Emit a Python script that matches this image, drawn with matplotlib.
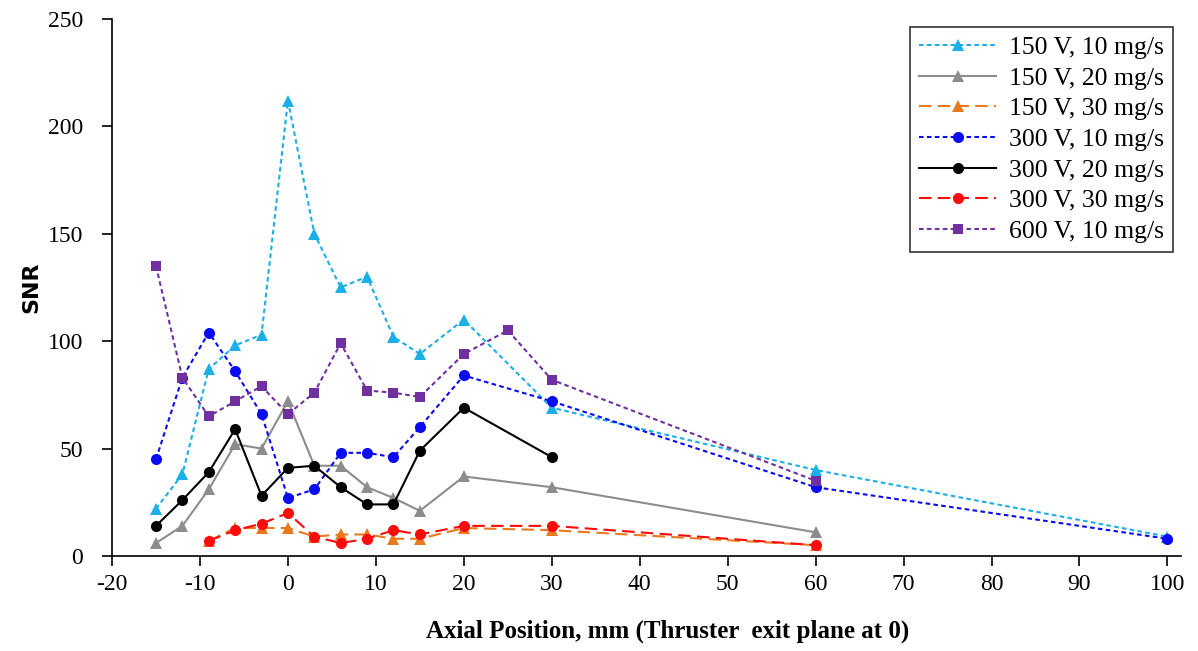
import matplotlib.pyplot as plt

# axial positions (mm) and SNR for each operating condition
x_150_10 = [-15, -12, -9, -6, -3, 0, 3, 6, 9, 12, 15, 20, 30, 60, 100]
snr_150_10 = [22, 38, 87, 98, 103, 212, 150, 125, 130, 102, 94, 110, 69, 40, 9]

x_150_20 = [-15, -12, -9, -6, -3, 0, 3, 6, 9, 12, 15, 20, 30, 60]
snr_150_20 = [6, 14, 31, 52, 50, 72, 42, 42, 32, 27, 21, 37, 32, 11]

x_150_30 = [-9, -6, -3, 0, 3, 6, 9, 12, 15, 20, 30, 60]
snr_150_30 = [7, 13, 13, 13, 9, 10, 10, 8, 8, 13, 12, 5]

x_300_10 = [-15, -12, -9, -6, -3, 0, 3, 6, 9, 12, 15, 20, 30, 60, 100]
snr_300_10 = [45, 83, 104, 86, 66, 27, 31, 48, 48, 46, 60, 84, 72, 32, 8]

x_300_20 = [-15, -12, -9, -6, -3, 0, 3, 6, 9, 12, 15, 20, 30]
snr_300_20 = [14, 26, 39, 59, 28, 41, 42, 32, 24, 24, 49, 69, 46]

x_300_30 = [-9, -6, -3, 0, 3, 6, 9, 12, 15, 20, 30, 60]
snr_300_30 = [7, 12, 15, 20, 9, 6, 8, 12, 10, 14, 14, 5]

x_600_10 = [-15, -12, -9, -6, -3, 0, 3, 6, 9, 12, 15, 20, 25, 30, 60]
snr_600_10 = [135, 83, 65, 72, 79, 66, 76, 99, 77, 76, 74, 94, 105, 82, 35]

x_ticks = [-20, -10, 0, 10, 20, 30, 40, 50, 60, 70, 80, 90, 100]
y_ticks = [0, 50, 100, 150, 200, 250]

plt.rcParams['font.family'] = ['Liberation Serif', 'DejaVu Serif']
plt.rcParams['axes.unicode_minus'] = False

fig = plt.figure(figsize=(11.98, 6.51), dpi=100)
ax = fig.add_axes([0.0935, 0.146, 0.892, 0.825])

dot = (0, (2.2, 1.6))
longdash = (0, (6, 3))

series = [
    (x_150_10, snr_150_10, '150 V, 10 mg/s', '#1AAFE6', dot, '^'),
    (x_150_20, snr_150_20, '150 V, 20 mg/s', '#8C8C8C', '-', '^'),
    (x_150_30, snr_150_30, '150 V, 30 mg/s', '#E8791F', longdash, '^'),
    (x_300_10, snr_300_10, '300 V, 10 mg/s', '#0A0AF5', dot, 'o'),
    (x_300_20, snr_300_20, '300 V, 20 mg/s', '#000000', '-', 'o'),
    (x_300_30, snr_300_30, '300 V, 30 mg/s', '#FF0A0A', longdash, 'o'),
    (x_600_10, snr_600_10, '600 V, 10 mg/s', '#7030A0', dot, 's'),
]

for xs, ys, label, color, ls, marker in series:
    ms = 7 if marker == 's' else 8
    ax.plot(xs, ys, color=color, linestyle=ls, linewidth=1.5, marker=marker,
            markersize=ms, markeredgewidth=0, label=label)

ax.set_xlim(-20, 101.5)
ax.set_ylim(0, 250)
ax.set_xticks(x_ticks)
ax.set_yticks(y_ticks)
ax.tick_params(direction='out', length=7, width=1.2, labelsize=17)
ax.tick_params(axis='x', pad=6)
ax.tick_params(axis='y', pad=14)

for side in ['top', 'right']:
    ax.spines[side].set_visible(False)
for side in ['left', 'bottom']:
    ax.spines[side].set_linewidth(1.2)

ax.set_xlabel('Axial Position, mm (Thruster  exit plane at 0)', fontsize=18,
              fontweight='bold')
ax.xaxis.set_label_coords(0.52, -0.118)
ax.set_ylabel('SNR', fontsize=16, fontweight='bold', family='DejaVu Sans')
ax.yaxis.set_label_coords(-0.066, 0.5)

leg = ax.legend(loc='upper right', bbox_to_anchor=(0.993, 0.985), fontsize=18.5,
                frameon=True, fancybox=False, edgecolor='black',
                handlelength=3.0, handletextpad=0.5, labelspacing=0.3,
                borderpad=0.35, borderaxespad=0)
leg.get_frame().set_linewidth(1.2)

fig.savefig('out.png', dpi=100)
